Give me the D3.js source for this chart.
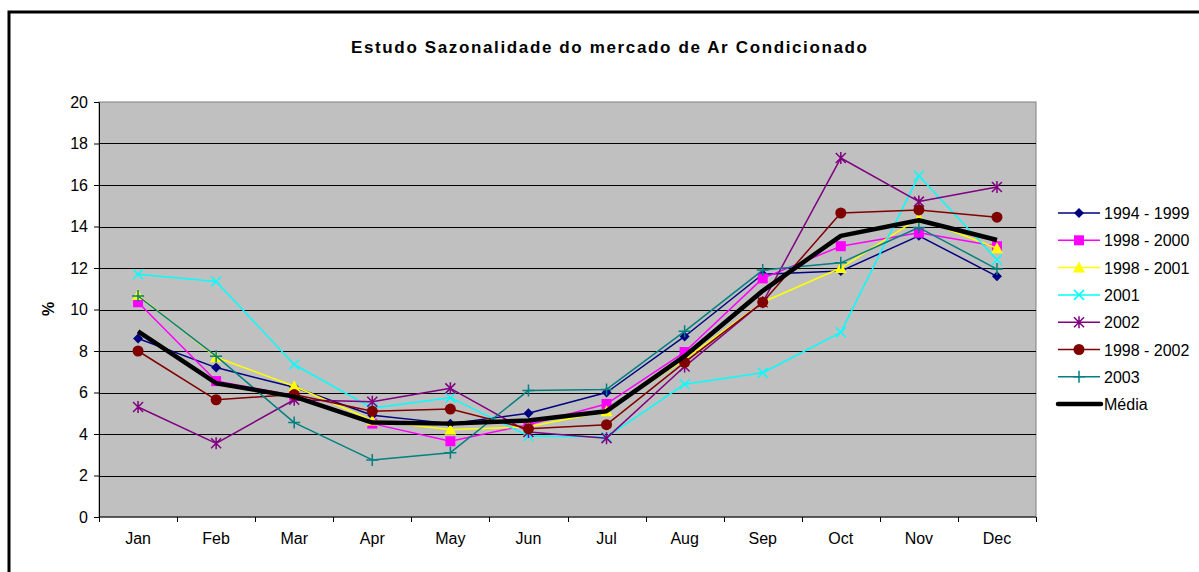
<!DOCTYPE html>
<html>
<head>
<meta charset="utf-8">
<script src="https://cdn.jsdelivr.net/npm/d3@7"></script>
<style>
  body { margin: 0; background: #fff; }
  svg { display: block; font-family: "Liberation Sans", Arial, sans-serif; }
</style>
</head>
<body>
<svg id="chart" width="1199" height="572"></svg>
<script>
// months on the x axis
var months = ['Jan', 'Feb', 'Mar', 'Apr', 'May', 'Jun', 'Jul', 'Aug', 'Sep', 'Oct', 'Nov', 'Dec']
var yTicks = [0, 2, 4, 6, 8, 10, 12, 14, 16, 18, 20]

// values (%)
var s1994_1999 = [8.6, 7.2, 6.25, 4.9, 4.5, 5.0, 6.0, 8.7, 11.7, 11.85, 13.55, 11.6]
var s1998_2000 = [10.35, 6.55, 5.85, 4.5, 3.65, 4.45, 5.45, 7.95, 11.5, 13.05, 13.7, 13.05]
var s1998_2001 = [10.7, 7.7, 6.3, 4.65, 4.2, 4.35, 5.1, 7.6, 10.35, 12.0, 14.4, 12.95]
var s2001 = [11.7, 11.35, 7.35, 5.25, 5.75, 3.9, 3.85, 6.4, 6.95, 8.9, 16.45, 12.4]
var s2002 = [5.3, 3.55, 5.65, 5.55, 6.2, 4.1, 3.8, 7.25, 10.35, 17.3, 15.2, 15.9]
var s1998_2002 = [8.0, 5.65, 5.9, 5.1, 5.2, 4.25, 4.45, 7.45, 10.35, 14.65, 14.8, 14.45]
var s2003 = [10.65, 7.75, 4.55, 2.75, 3.1, 6.1, 6.15, 8.95, 11.9, 12.25, 13.95, 11.95]
var media = [8.95, 6.45, 5.8, 4.55, 4.5, 4.65, 5.1, 7.75, 10.9, 13.55, 14.3, 13.35]

var series = [
  { name: '1994 - 1999', values: s1994_1999, color: '#000080', marker: 'diamond' },
  { name: '1998 - 2000', values: s1998_2000, color: '#FF00FF', marker: 'square' },
  { name: '1998 - 2001', values: s1998_2001, color: '#FFFF00', marker: 'triangle' },
  { name: '2001', values: s2001, color: '#00FFFF', marker: 'x' },
  { name: '2002', values: s2002, color: '#800080', marker: 'star' },
  { name: '1998 - 2002', values: s1998_2002, color: '#800000', marker: 'circle' },
  { name: '2003', values: s2003, color: '#008080', marker: 'plus' },
  { name: 'Média', values: media, color: '#000000', marker: 'none' }
]

var svg = d3.select('#chart')
var margin = { top: 102, left: 99, right: 163, bottom: 55 }
var width = 1199 - margin.left - margin.right
var height = 572 - margin.top - margin.bottom

// outer chart border (only top and left visible)
svg.append('path')
  .attr('d', 'M9,580 L9,12 L1205,12')
  .attr('fill', 'none')
  .attr('stroke', '#000')
  .attr('stroke-width', 3)

svg.append('text')
  .attr('x', 609)
  .attr('y', 53)
  .attr('text-anchor', 'middle')
  .attr('font-size', 17)
  .attr('font-weight', 'bold')
  .attr('textLength', 516)
  .attr('lengthAdjust', 'spacing')
  .text('Estudo Sazonalidade do mercado de Ar Condicionado')

var g = svg.append('g').attr('transform', 'translate(' + margin.left + ',' + margin.top + ')')

var x = d3.scaleBand().domain(months).range([0, width])
var y = d3.scaleLinear().domain([0, 20]).range([height, 0])

g.append('rect')
  .attr('width', width)
  .attr('height', height)
  .attr('fill', '#C0C0C0')
  .attr('stroke', '#808080')
  .attr('stroke-width', 1)

// gridlines
g.append('g')
  .selectAll('line')
  .data(yTicks.filter(function (d) { return d > 0 && d < 20 }))
  .enter()
  .append('line')
  .attr('x1', 0)
  .attr('x2', width)
  .attr('y1', function (d) { return Math.round(y(d)) + 0.5 })
  .attr('y2', function (d) { return Math.round(y(d)) + 0.5 })
  .attr('stroke', '#000')

// y axis
var yAxis = g.append('g')
  .call(d3.axisLeft(y).tickValues(yTicks).tickSize(5).tickPadding(6).tickSizeOuter(0))
yAxis.selectAll('text').attr('font-size', 16).attr('fill', '#000').attr('font-family', '"Liberation Sans", Arial, sans-serif')
yAxis.select('.domain').attr('stroke', '#000')

// x axis, ticks at band edges
var xAxis = g.append('g').attr('transform', 'translate(0,' + height + ')')
xAxis.append('line').attr('x1', 0).attr('x2', width).attr('stroke', '#000')
xAxis.selectAll('line.tk')
  .data(d3.range(months.length + 1))
  .enter()
  .append('line')
  .attr('class', 'tk')
  .attr('x1', function (i) { return Math.round(i * x.step()) + 0.5 })
  .attr('x2', function (i) { return Math.round(i * x.step()) + 0.5 })
  .attr('y1', 0)
  .attr('y2', 5)
  .attr('stroke', '#000')
xAxis.selectAll('text')
  .data(months)
  .enter()
  .append('text')
  .attr('x', function (d) { return x(d) + x.bandwidth() / 2 })
  .attr('y', 27)
  .attr('text-anchor', 'middle')
  .attr('font-size', 16)
  .text(function (d) { return d })

svg.append('text')
  .attr('transform', 'translate(54,309) rotate(-90)')
  .attr('text-anchor', 'middle')
  .attr('font-size', 16)
  .attr('font-weight', 'bold')
  .text('%')

function drawMarker(sel, type, color) {
  if (type === 'diamond') {
    sel.append('path').attr('d', 'M0,-5L5,0L0,5L-5,0Z').attr('fill', color)
  } else if (type === 'square') {
    sel.append('rect').attr('x', -5).attr('y', -5).attr('width', 10).attr('height', 10).attr('fill', color)
  } else if (type === 'triangle') {
    sel.append('path').attr('d', 'M0,-6L6,5L-6,5Z').attr('fill', color)
  } else if (type === 'x') {
    sel.append('path').attr('d', 'M-5,-5L5,5M-5,5L5,-5').attr('stroke', color).attr('stroke-width', 1.5)
  } else if (type === 'star') {
    sel.append('path').attr('d', 'M-5,-5L5,5M-5,5L5,-5M0,-6L0,6').attr('stroke', color).attr('stroke-width', 1.5)
  } else if (type === 'circle') {
    sel.append('circle').attr('r', 5.5).attr('fill', color)
  } else if (type === 'plus') {
    sel.append('path').attr('d', 'M-6,0L6,0M0,-6L0,6').attr('stroke', color).attr('stroke-width', 1.5)
  }
}

var line = d3.line()
  .x(function (d, i) { return x(months[i]) + x.bandwidth() / 2 })
  .y(function (d) { return y(d) })

series.forEach(function (s) {
  var isMedia = s.marker === 'none'
  g.append('path')
    .datum(s.values)
    .attr('d', line)
    .attr('fill', 'none')
    .attr('stroke', s.color)
    .attr('stroke-width', isMedia ? 4.5 : 1.5)
    .attr('stroke-linejoin', 'round')
  if (!isMedia) {
    s.values.forEach(function (v, i) {
      var m = g.append('g')
        .attr('transform', 'translate(' + (x(months[i]) + x.bandwidth() / 2) + ',' + y(v) + ')')
      drawMarker(m, s.marker, s.color)
    })
  }
})

// legend
var legend = svg.append('g').attr('transform', 'translate(1058,213)')
series.forEach(function (s, i) {
  var isMedia = s.marker === 'none'
  var row = legend.append('g').attr('transform', 'translate(0,' + (i * 27.3) + ')')
  row.append('line')
    .attr('x1', 0)
    .attr('x2', isMedia ? 43 : 42)
    .attr('stroke', s.color)
    .attr('stroke-width', isMedia ? 4.5 : 1.5)
    .attr('stroke-linecap', isMedia ? 'round' : 'butt')
  var m = row.append('g').attr('transform', 'translate(21,0)')
  drawMarker(m, s.marker, s.color)
  row.append('text')
    .attr('x', 46)
    .attr('y', 6)
    .attr('font-size', 16)
    .text(s.name)
})
</script>
</body>
</html>
